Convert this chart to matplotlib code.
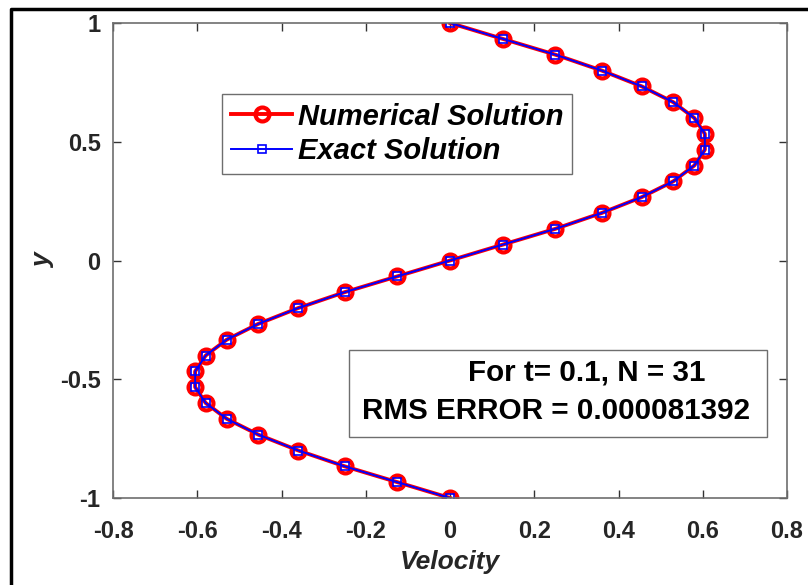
import matplotlib
matplotlib.use("Agg")
import matplotlib.pyplot as plt
from matplotlib.lines import Line2D
from matplotlib.patches import Rectangle

# dados (y de 1 ate -1, N = 31)
y_pontos = [1.0, 0.9333, 0.8667, 0.8, 0.7333, 0.6667, 0.6, 0.5333, 0.4667, 0.4,
            0.3333, 0.2667, 0.2, 0.1333, 0.0667, 0.0, -0.0667, -0.1333, -0.2, -0.2667,
            -0.3333, -0.4, -0.4667, -0.5333, -0.6, -0.6667, -0.7333, -0.8, -0.8667, -0.9333, -1.0]
vel_numerica = [0.0, 0.125, 0.25, 0.36, 0.455, 0.53, 0.58, 0.605, 0.605, 0.58,
                0.53, 0.455, 0.36, 0.25, 0.125, 0.0, -0.125, -0.25, -0.36, -0.455,
                -0.53, -0.58, -0.605, -0.605, -0.58, -0.53, -0.455, -0.36, -0.25, -0.125, 0.0]
vel_exata = [0.0, 0.125, 0.25, 0.36, 0.455, 0.53, 0.58, 0.605, 0.605, 0.58,
             0.53, 0.455, 0.36, 0.25, 0.125, 0.0, -0.125, -0.25, -0.36, -0.455,
             -0.53, -0.58, -0.605, -0.605, -0.58, -0.53, -0.455, -0.36, -0.25, -0.125, 0.0]

xticks = [-0.8, -0.6, -0.4, -0.2, 0, 0.2, 0.4, 0.6, 0.8]
xlabels = ["-0.8", "-0.6", "-0.4", "-0.2", "0", "0.2", "0.4", "0.6", "0.8"]
yticks = [-1, -0.5, 0, 0.5, 1]
ylabels = ["-1", "-0.5", "0", "0.5", "1"]

fonte = ["Liberation Sans", "DejaVu Sans"]
cinza = "#6e6e6e"
escuro = "#262626"

fig = plt.figure(figsize=(8.08, 5.85), dpi=100)
ax = fig.add_axes([113 / 808, 1 - 498 / 585, 674 / 808, 475 / 585])

ax.plot(vel_numerica, y_pontos, color="red", linewidth=2.8, marker="o", markersize=10,
        markerfacecolor="none", markeredgecolor="red", markeredgewidth=3,
        label="Numerical Solution")
ax.plot(vel_exata, y_pontos, color="blue", linewidth=1.4, marker="s", markersize=6,
        markerfacecolor="none", markeredgecolor="blue", markeredgewidth=1.2,
        label="Exact Solution")

ax.set_xlim(-0.8, 0.8)
ax.set_ylim(-1, 1)
ax.set_xticks(xticks)
ax.set_xticklabels(xlabels)
ax.set_yticks(yticks)
ax.set_yticklabels(ylabels)
ax.tick_params(direction="in", length=6, width=1, color="#333333", top=True, right=True,
               labelsize=17)
ax.tick_params(axis="x", pad=16)
ax.tick_params(axis="y", pad=9)
for lab in ax.get_xticklabels() + ax.get_yticklabels():
    lab.set_family(fonte)
    lab.set_fontweight("bold")
    lab.set_color(escuro)
for s in ax.spines.values():
    s.set_color(cinza)
    s.set_linewidth(1.2)

ax.set_xlabel("Velocity", fontsize=19, fontweight="bold", fontstyle="italic",
              family=fonte, color=escuro, labelpad=5)
ax.set_ylabel("y", fontsize=19, fontweight="bold", fontstyle="italic",
              family=fonte, color=escuro, labelpad=3)

leg = ax.legend(loc="upper left", bbox_to_anchor=(0.162, 0.851), fancybox=False,
                framealpha=1, edgecolor=cinza, handlelength=2.1, handletextpad=0.2,
                labelspacing=0.22, borderpad=0.3, borderaxespad=0,
                prop={"family": fonte, "weight": "bold", "style": "italic", "size": 21})
leg.get_frame().set_linewidth(1.0)

# caixa com o texto do erro
ax.add_patch(Rectangle((0.350, 0.128), 0.620, 0.184, transform=ax.transAxes,
                       facecolor="white", edgecolor=cinza, linewidth=1.0, zorder=5))
ax.text(0.527, 0.248, "For t= 0.1, N = 31", transform=ax.transAxes, fontsize=21.3,
        fontweight="bold", family=fonte, va="baseline", ha="left", zorder=6)
ax.text(0.369, 0.166, "RMS ERROR = 0.000081392", transform=ax.transAxes, fontsize=21.3,
        fontweight="bold", family=fonte, va="baseline", ha="left", zorder=6)

# borda externa (cortada na direita e embaixo)
fig.add_artist(Line2D([11 / 808, 11 / 808, 1.0], [0.0, 1 - 9 / 585, 1 - 9 / 585],
                      transform=fig.transFigure, color="black", linewidth=2.5))

fig.savefig("out.png", dpi=100)
